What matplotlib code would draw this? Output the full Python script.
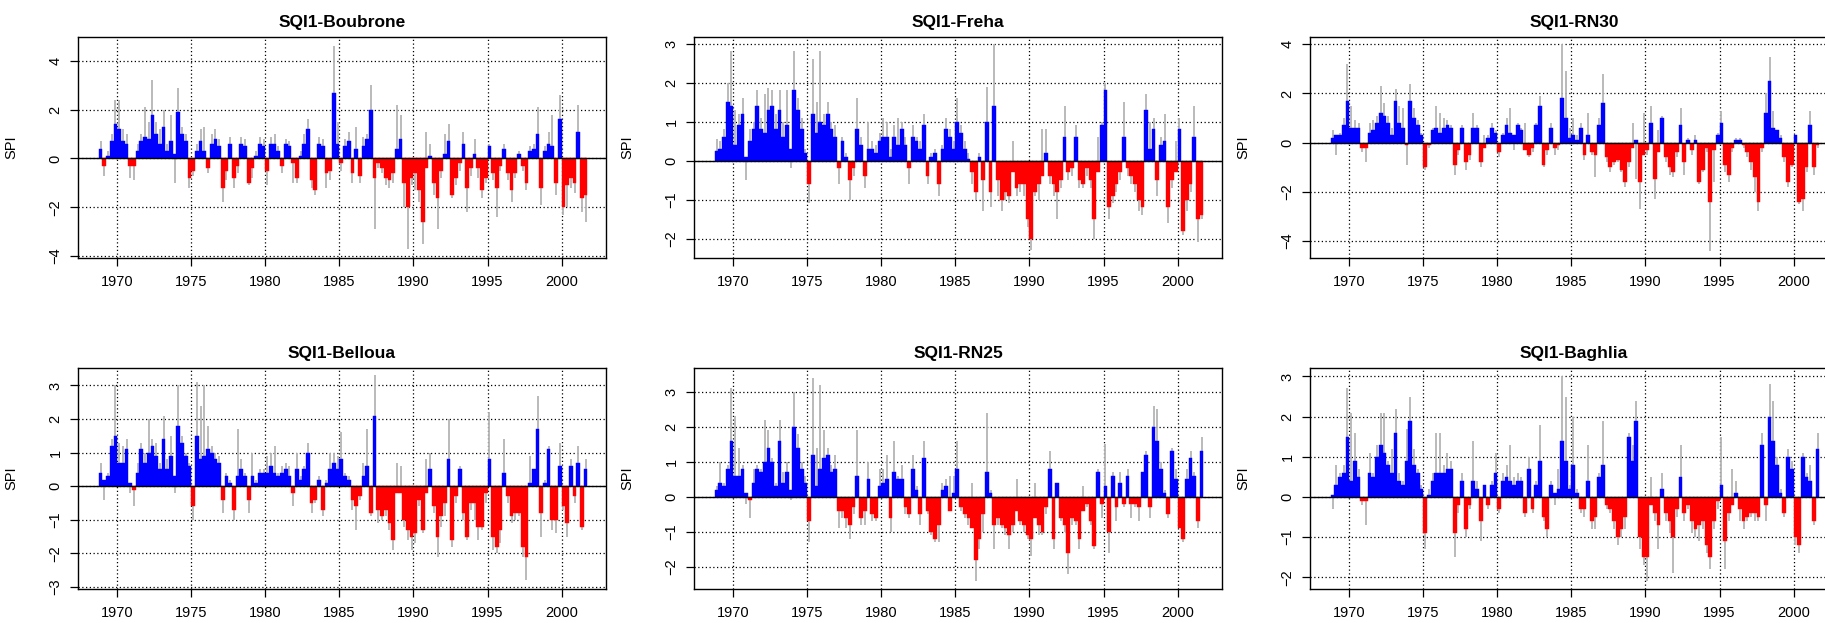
import matplotlib
matplotlib.use("Agg")
import matplotlib.pyplot as plt
import numpy as np

plt.rcParams["font.family"] = ["Liberation Sans", "DejaVu Sans"]

# quarterly SQI values, first quarter = Oct 1968, last = Jul 2001
start_year = 1968.75
step = 0.25

boubrone = [0.4, -0.3, 0.1, 0.7, 1.4, 1.2, 0.7, 0.6, -0.3, -0.3, 0.3, 0.7, 0.9,
            0.8, 1.8, 1.0, 0.6, 1.3, 0.3, 0.7, 0.2, 1.9, 1.0, 0.7, -0.8, -0.5, 0.3, 0.7, 0.3,
            -0.4, 0.6, 0.8, 0.5, -1.2, -0.5, 0.6, -0.8, -0.3, 0.6, 0.5, -1.0, -0.4, 0.1, 0.6, 0.5,
            -0.5, 0.6, 0.6, 0.3, -0.3, 0.6, 0.5, -0.2, -0.8, 0.1, 0.6, 1.2, -0.9, -1.3, 0.6, 0.5,
            -0.6, -0.5, 2.7, 0.6, -0.2, 0.5, 0.7, -0.6, 0.4, -0.7, 0.5, 0.8, 2.0, -0.8, -0.2, -0.4,
            -0.8, -0.9, -0.6, 0.4, 0.8, -1.0, -2.0, -0.8, -0.6, -1.3, -2.6, -0.4, 0.1, -1.0, -1.6, -0.5,
            0.2, 0.7, -1.5, -0.8, -0.2, 0.6, -1.2, -0.4, 0.2, -0.4, -1.3, -0.8, 0.5, -0.6, -1.2, -0.3,
            0.4, -0.6, -1.3, -0.6, 0.2, -0.3, -1.0, 0.3, 0.4, 1.0, -1.2, 0.3, 0.6, 0.5, -1.0, 1.6,
            -2.0, -1.1, -0.8, -1.0, 1.1, -1.6, -1.5]
boubrone_peak = [0.7, -0.7, 0.3, 1.0, 2.4, 2.4, 1.2, 1.0, -0.8, -0.9, 0.6, 1.0, 2.1,
                 1.5, 3.2, 1.5, 1.2, 2.0, 0.6, 1.8, -1.0, 2.9, 1.3, 1.0, -1.2, -0.7, 0.6, 1.2, 1.3,
                 -0.6, 1.0, 1.2, 0.8, -1.8, -0.9, 0.9, -1.2, -0.6, 0.9, 0.8, -1.1, -0.8, 0.3, 0.9, 0.8,
                 -1.1, 0.9, 1.0, 0.5, -0.6, 0.8, 0.7, -1.0, -1.0, 0.3, 1.0, 1.6, -1.2, -1.5, 0.9, 0.8,
                 -1.2, -0.9, 4.6, 1.5, -0.5, 0.8, 1.1, -1.0, 1.3, -1.0, 0.9, 1.0, 3.0, -2.9, -0.4, -0.6,
                 -1.1, -1.2, -1.0, 2.2, 1.8, -2.0, -3.7, -1.1, -1.3, -1.8, -3.5, 1.1, 0.6, -1.5, -2.9, -0.8,
                 1.0, 1.4, -1.6, -1.1, -0.5, 1.1, -2.2, -0.7, 0.8, -0.8, -1.6, -1.0, 0.6, -0.9, -2.4, -0.5,
                 0.6, -0.9, -1.8, -0.8, 0.3, -0.5, -1.3, 0.5, 0.6, 2.1, -1.9, 0.5, 1.1, 1.8, -1.5, 2.6,
                 -2.3, -2.0, -1.2, -1.4, 2.2, -2.2, -2.6]

freha = [0.25, 0.3, 0.6, 1.5, 1.4, 0.4, 0.9, 1.2, 0.1, 0.5, 0.8, 1.4, 0.8,
         0.7, 1.3, 1.4, 0.8, 1.3, 0.6, 0.9, 0.3, 1.8, 1.3, 0.8, 0.2, -0.6, 1.2, 0.7, 1.0,
         0.9, 1.2, 0.8, 0.6, -0.2, 0.5, 0.1, -0.5, -0.2, 0.8, 0.4, -0.4, 0.3, 0.3, 0.2, 0.5,
         0.6, 0.6, 0.1, 0.6, 0.4, 0.8, 0.4, -0.2, 0.6, 0.5, 0.3, 0.9, -0.4, 0.1, 0.2, -0.6,
         0.3, 0.8, 0.6, 0.3, 1.0, 0.7, 0.3, 0.05, -0.3, -0.8, 0.1, -0.5, 1.0, -0.8, 1.4, -0.5,
         -1.0, -0.8, -0.9, -0.3, -0.7, -0.6, -0.6, -1.5, -2.0, -0.8, -0.6, -0.4, 0.2, -0.4, -0.6, -0.8,
         -0.5, 0.6, -0.3, -0.2, 0.6, -0.5, -0.6, -0.2, -0.5, -1.5, -0.3, 0.9, 1.8, -1.2, -0.9, -0.6,
         -0.3, 0.6, -0.2, -0.4, -0.6, -1.0, -1.2, 1.3, 0.3, 0.8, -0.5, 0.4, 0.5, -1.2, -0.5, -0.3,
         0.8, -1.8, -1.0, -0.6, 0.6, -1.5, -1.4]
freha_peak = [0.55, 0.5, 0.8, 2.0, 2.8, 1.3, 1.2, 1.6, -0.5, 0.8, 1.0, 1.8, 1.1,
              1.7, 1.85, 1.8, 1.2, 1.8, 1.0, 1.8, -0.2, 2.8, 1.6, 1.1, 0.3, -1.1, 2.6, 1.5, 2.8,
              1.2, 1.5, 1.0, 0.9, -0.6, 0.6, 0.2, -1.0, -0.4, 1.6, 0.6, -0.7, 1.0, 0.5, 0.4, 0.7,
              1.1, 1.0, 0.3, 0.9, 1.1, 1.0, 0.6, -0.6, 0.9, 0.6, 0.5, 1.2, -0.6, 0.2, 0.3, -0.9,
              0.4, 1.1, 0.8, 0.5, 1.6, 0.9, 0.5, 0.2, -0.6, -1.0, 0.2, -1.3, 1.9, -1.2, 3.0, -0.9,
              -1.3, -1.0, -1.1, 0.5, -0.9, -0.8, -0.9, -1.7, -2.3, -0.9, -1.0, 0.8, 0.8, -0.6, -0.9, -1.5,
              -0.7, 1.4, -0.5, -0.4, 0.9, -0.7, -0.7, -0.4, -0.7, -2.0, 0.6, 1.0, 2.0, -1.5, -1.1, -0.8,
              -0.5, 1.5, -0.4, -0.6, -0.8, -1.3, -1.4, 1.7, 1.0, 1.1, -0.9, 0.6, 1.2, -1.6, -0.7, 0.5,
              1.1, -1.9, -1.3, -0.8, 1.4, -2.1, -1.5]

rn30 = [0.2, 0.3, 0.3, 0.7, 1.7, 0.6, 0.6, 0.6, -0.2, -0.2, 0.4, 0.5, 0.8,
        1.2, 1.1, 0.8, 0.3, 1.7, 0.8, 0.6, -0.1, 1.7, 1.0, 0.7, 0.3, -1.0, -0.1, 0.5, 0.6,
        0.4, 0.6, 0.7, 0.6, -0.9, -0.3, 0.6, -0.8, -0.5, 0.6, 0.6, -0.8, -0.2, 0.2, 0.6, 0.4,
        -0.4, 0.3, 0.7, 0.4, 0.3, 0.7, 0.5, -0.3, -0.5, -0.2, 0.7, 1.5, -0.9, -0.3, 0.6, -0.2,
        -0.1, 1.8, 1.0, 0.2, 0.3, 0.1, 0.6, -0.5, 0.3, -0.4, -0.5, 0.7, 1.6, -0.6, -1.0, -0.8,
        -0.7, -1.1, -1.6, -0.8, -0.2, 0.1, -1.6, -0.5, -0.3, 0.8, -1.5, -0.4, 1.0, -0.6, -1.0, -1.2,
        -0.4, 0.7, -0.8, 0.1, -0.3, 0.1, -1.6, -1.1, -0.2, -2.4, -0.3, 0.3, 0.8, -0.9, -1.3, -0.2,
        0.1, 0.1, -0.1, -0.4, -0.8, -1.4, -2.4, -0.2, 1.2, 2.5, 0.6, 0.5, 0.2, -0.6, -1.6, -0.9,
        0.3, -2.4, -2.3, -1.0, 0.7, -1.0, -0.1]
rn30_peak = [0.5, -0.5, 0.4, 1.0, 3.2, 1.5, 0.9, 0.8, -0.4, -0.8, 0.8, 0.9, 1.1,
             2.3, 1.6, 1.1, 0.6, 2.2, 1.5, 1.4, -0.9, 2.4, 1.4, 0.9, 0.4, -1.1, -0.2, 0.6, 1.5,
             1.2, 1.0, 0.9, 0.7, -1.3, -0.5, 0.7, -1.1, -0.7, 1.2, 0.7, -1.0, 0.3, 0.3, 0.8, 0.5,
             -0.6, 0.4, 1.0, 1.4, -0.3, 0.8, 0.6, 0.8, -0.6, -0.4, 0.8, 1.9, -1.0, -0.5, 0.8, -0.5,
             -0.3, 4.0, 2.9, 0.6, 1.0, 0.3, 0.8, -0.7, 1.2, -0.5, -1.4, 1.0, 2.8, -0.8, -1.2, -0.9,
             -0.8, -1.2, -1.8, -1.0, 0.8, -1.5, -2.7, 1.2, -0.5, 1.5, -2.3, 0.5, 1.1, -0.8, -1.3, -1.4,
             -0.6, 1.4, -1.3, 0.2, -0.5, 0.3, -1.7, -1.2, -0.4, -4.4, -1.6, 0.4, 1.3, -1.2, -1.6, -0.4,
             0.2, 0.2, -0.2, -0.6, -1.1, -2.0, -2.8, -0.4, 2.0, 3.5, 1.3, 0.5, 0.3, -0.8, -1.8, -1.0,
             0.3, -2.5, -2.8, -1.2, 1.3, -1.3, -0.2]

belloua = [0.4, 0.2, 0.3, 1.2, 1.5, 0.7, 0.7, 1.1, 0.1, -0.1, 0.4, 1.1, 0.7,
           1.0, 1.2, 0.9, 0.5, 1.4, 0.5, 0.9, 0.3, 1.8, 1.3, 0.9, 0.6, -0.6, 1.5, 0.8, 0.9,
           1.1, 1.0, 0.8, 0.7, -0.4, 0.3, 0.1, -0.7, 0.3, 0.5, 0.3, -0.4, 0.3, 0.1, 0.4, 0.4,
           0.4, 0.6, 0.4, 0.3, 0.4, 0.5, 0.3, -0.2, 0.5, 0.2, 0.5, 1.0, -0.5, -0.4, 0.2, -0.7,
           0.1, 0.5, 0.7, 0.5, 0.8, 0.3, 0.2, -0.4, -0.6, -0.3, 0.3, 0.6, -0.8, 2.1, -0.7, -0.9,
           -0.7, -1.1, -1.6, -0.2, -0.2, -1.0, -1.3, -1.5, -1.4, -0.4, -1.3, -0.2, 0.5, -0.6, -1.5, -0.9,
           -0.5, 0.8, -1.6, -0.3, 0.5, -0.8, -1.5, -0.5, -0.5, -1.2, -1.2, -0.2, 0.8, -1.5, -1.8, -1.3,
           0.4, -0.3, -0.9, -0.8, -0.8, -1.8, -2.1, 0.1, 0.5, 1.7, -0.8, 0.1, 1.1, -1.0, -1.0, 0.6,
           -0.6, -1.1, 0.6, -0.3, 0.7, -1.2, 0.5]
belloua_peak = [0.7, -0.4, 0.4, 1.4, 3.0, 1.3, 1.2, 1.4, -0.2, -0.6, 0.7, 1.3, 1.0,
                2.0, 1.4, 1.3, 0.7, 2.1, 0.8, 1.5, -0.2, 3.0, 1.5, 1.0, 0.7, -1.0, 3.1, 2.4, 3.0,
                1.8, 1.2, 1.0, 0.9, -0.8, 0.4, 0.2, -1.0, 1.7, 0.8, 0.4, -0.8, 1.0, 0.2, 0.5, 0.5,
                0.9, 1.0, 1.2, 0.4, 0.6, 0.7, 0.6, -0.6, 1.0, 0.3, 0.6, 1.3, -0.8, -0.5, 0.3, -0.9,
                0.2, 1.0, 1.0, 0.9, 1.6, 0.4, 0.3, -0.7, -1.3, -0.4, 0.7, 1.7, -0.9, 3.3, -1.1, -1.0,
                -0.9, -1.3, -1.9, 0.7, 0.6, -1.2, -1.6, -1.9, -1.7, -0.6, -1.4, 0.8, 1.0, -0.8, -2.1, -1.2,
                -0.9, 2.0, -1.8, -0.5, 0.6, -1.0, -1.6, -0.7, -1.0, -1.6, -1.3, -0.5, 2.2, -1.9, -2.0, -1.7,
                1.4, -0.5, -1.1, -1.0, -0.9, -2.1, -2.8, 0.9, 0.5, 2.7, -1.5, 0.2, 1.2, -1.3, -1.4, 1.3,
                -0.7, -1.5, 0.8, -0.5, 1.2, -1.3, 0.8]

rn25 = [0.2, 0.4, 0.3, 0.8, 1.6, 0.6, 0.6, 0.8, 0.1, -0.1, 0.4, 0.8, 0.7,
        1.0, 1.4, 1.0, 0.3, 1.6, 0.4, 0.7, 0.2, 2.0, 1.4, 0.8, 0.4, -0.7, 1.2, 0.3, 0.8,
        1.1, 1.2, 0.7, 0.8, -0.4, -0.4, -0.6, -0.8, -0.3, 0.6, -0.6, -0.4, 0.5, -0.5, -0.6, 0.3,
        0.4, 0.5, -0.6, 0.7, 0.5, 0.5, -0.3, -0.5, 0.8, 0.2, -0.5, 1.1, -0.4, -1.0, -1.2, -0.8,
        0.2, 0.3, -0.4, 0.1, 0.8, -0.3, -0.5, -0.6, -0.9, -1.8, -1.2, -0.5, 0.7, 0.1, -0.8, -0.6,
        -0.8, -0.9, -1.1, -0.8, -0.4, -0.7, -0.8, -1.1, -1.2, -0.6, -0.8, -1.0, -0.3, 0.8, -1.2, 0.4,
        -0.6, -0.8, -1.6, -0.6, -0.7, -1.2, -0.4, -0.2, -0.7, -1.4, 0.7, -0.2, 0.3, -1.0, 0.6, -0.3,
        0.4, -0.2, 0.6, -0.2, -0.2, -0.3, 0.7, 1.2, -0.3, 2.0, 1.6, 0.8, 0.1, -0.5, 1.3, 0.5,
        -0.9, -1.2, 0.5, 1.1, 0.6, -0.7, 1.3]
rn25_peak = [0.3, 1.0, 0.4, 0.9, 3.1, 2.3, 1.4, 0.9, -0.2, -0.6, 0.8, 0.9, 0.8,
             2.2, 1.9, 1.1, 0.4, 2.2, 0.7, 1.0, -0.1, 3.0, 1.8, 1.0, 0.6, -1.3, 3.4, 1.4, 3.2,
             1.9, 1.4, 0.9, 1.2, -0.9, -0.6, -0.9, -1.2, -0.5, 1.9, -0.8, -0.8, 1.0, -0.7, -0.7, 0.8,
             0.8, 1.2, -1.0, 1.6, 0.6, 0.9, -0.5, -0.6, 1.2, 0.3, -0.8, 1.6, -0.5, -1.1, -1.3, -1.3,
             0.4, 0.5, 0.6, 0.6, 1.6, -0.4, -0.6, -0.8, 0.4, -2.4, -1.5, -1.0, 2.4, 0.2, -1.5, -0.8,
             -0.9, -1.1, -1.5, -1.0, 0.5, -0.8, -1.0, -1.2, -1.7, 0.4, -1.1, -1.1, -0.5, 1.3, -1.5, 0.4,
             -0.7, -1.0, -2.2, -0.8, -0.8, -1.5, 0.3, -0.3, -0.8, -1.5, 0.8, -0.6, 1.5, -1.6, 0.7, -0.7,
             0.7, -0.3, 0.8, -0.6, -0.3, -0.7, 0.7, 1.3, -0.6, 2.6, 2.5, 1.0, 0.2, -0.6, 1.4, 0.8,
             -0.9, -1.3, 0.8, 1.3, 0.7, -0.9, 1.7]

baghlia = [0.05, 0.3, 0.5, 0.6, 1.5, 0.4, 0.9, 0.5, -0.1, -0.1, 0.6, 0.5, 1.0,
           1.3, 1.1, 0.8, 0.6, 1.6, 0.4, 0.3, 0.9, 1.9, 0.8, 0.6, 0.2, -0.9, 0.05, 0.4, 0.6,
           0.6, 0.6, 0.7, 0.7, -0.9, -0.2, 0.4, -0.8, -0.2, 0.4, 0.2, -0.6, 0.3, -0.2, 0.3, 0.6,
           -0.3, 0.4, 0.5, 0.4, 0.3, 0.4, 0.4, -0.4, 0.7, -0.3, 0.3, 0.9, -0.5, -0.8, 0.3, 0.1,
           0.2, 1.4, 0.9, 0.2, 0.8, 0.1, -0.3, -0.3, 0.4, -0.6, -0.5, 0.5, 0.8, -0.2, -0.3, -0.6,
           -1.0, -0.8, -0.5, 1.5, 0.9, 1.9, -1.0, -1.5, -1.5, -0.2, -0.4, -0.7, 0.2, -0.4, -0.6, -1.0,
           -0.3, 0.5, -0.4, -0.2, -0.6, -0.8, -0.7, -0.6, -1.2, -1.5, -0.6, -0.1, 0.3, -1.1, -0.4, -0.2,
           0.1, -0.3, -0.6, -0.5, -0.4, -0.4, -0.5, 1.3, -0.2, 2.0, 1.4, 0.8, 0.1, -0.4, 1.0, 0.7,
           -1.0, -1.2, 1.0, 0.5, 0.4, -0.6, 1.2]
baghlia_peak = [-0.3, 0.8, 0.6, 0.8, 2.7, 2.1, 1.6, 0.7, -0.2, -0.7, 1.1, 0.6, 1.3,
                2.1, 2.1, 0.9, 1.2, 2.2, 0.6, 0.4, 1.7, 2.5, 1.2, 0.7, 0.3, -1.3, 0.2, 0.6, 1.6,
                1.6, 0.8, 1.1, 0.9, -1.5, -0.4, 0.6, -1.0, -0.3, 1.4, 0.4, -1.1, 0.3, -0.3, 0.4, 1.1,
                -0.4, 0.6, 0.8, 1.3, 0.5, 0.6, 0.5, -0.5, 1.0, -0.4, 0.4, 1.8, -0.6, -1.0, 0.4, -0.2,
                0.7, 3.0, 2.5, 0.3, 2.0, 0.2, -0.4, -0.5, 1.3, -0.8, -0.8, 0.6, 1.9, -0.3, -0.4, -0.8,
                -1.2, -1.0, -0.8, 1.6, 1.3, 2.4, -1.3, -1.7, -2.1, 0.5, -0.6, -1.3, 0.6, -0.6, -0.9, -1.9,
                -0.5, 1.3, -0.6, -0.3, -0.9, -1.0, -1.1, -0.8, -1.4, -1.8, -0.8, -0.3, 1.5, -1.8, -0.6, 0.7,
                0.4, -0.6, -0.8, -0.6, -0.5, -0.6, -0.6, 1.6, -0.6, 2.8, 2.4, 1.0, 0.2, -0.5, 1.2, 0.9,
                -1.2, -1.4, 1.1, 0.6, 0.8, -0.7, 1.6]

titles = ["SQI1-Boubrone", "SQI1-Freha", "SQI1-RN30",
          "SQI1-Belloua", "SQI1-RN25", "SQI1-Baghlia"]
series = [boubrone, freha, rn30, belloua, rn25, baghlia]
peaks = [boubrone_peak, freha_peak, rn30_peak, belloua_peak, rn25_peak, baghlia_peak]
y_ticks = [[-4, -2, 0, 2, 4], [-2, -1, 0, 1, 2, 3], [-4, -2, 0, 2, 4],
           [-3, -2, -1, 0, 1, 2, 3], [-2, -1, 0, 1, 2, 3], [-2, -1, 0, 1, 2, 3]]
y_limits = [(-4.08, 4.98), (-2.5, 3.17), (-4.7, 4.3),
            (-3.06, 3.52), (-2.64, 3.68), (-2.29, 3.21)]
x_ticks = [1970, 1975, 1980, 1985, 1990, 1995, 2000]

W, H = 1825, 623
fig = plt.figure(figsize=(W / 100, H / 100), dpi=100)
lefts = [78, 694, 1310]
tops = [37, 368]
pw, ph = 528, 221

for i in range(6):
    row, col = divmod(i, 3)
    ax = fig.add_axes([lefts[col] / W, (H - tops[row] - ph) / H, pw / W, ph / H])
    vals = np.array(series[i])
    peak = np.array(peaks[i])
    t = start_year + step * np.arange(len(vals))

    ax.set_axisbelow(True)
    ax.grid(True, color="black", linestyle=(0, (1, 2)), linewidth=0.9)
    ax.vlines(t + step / 2, 0, peak, color="#b4b4b4", linewidth=1.3, zorder=2)
    colors = np.where(vals >= 0, "#0000ff", "#ff0000")
    ax.bar(t, vals, width=step, align="edge", color=colors, edgecolor=colors,
           linewidth=0.3, zorder=3)
    ax.axhline(0, color="black", linewidth=1.0, zorder=4)

    ax.set_xlim(1967.35, 2003.0)
    ax.set_ylim(*y_limits[i])
    ax.set_xticks(x_ticks)
    ax.set_yticks(y_ticks[i])
    ax.tick_params(axis="both", direction="out", length=6, width=0.9,
                   labelsize=10.5, colors="black")
    ax.tick_params(axis="x", pad=6)
    ax.tick_params(axis="y", pad=5)
    plt.setp(ax.get_yticklabels(), rotation=90, va="center")
    for sp in ax.spines.values():
        sp.set_linewidth(1.0)
    ax.set_ylabel("SPI", fontsize=10.5)
    ax.yaxis.set_label_coords(-0.113, 0.5)
    ax.set_title(titles[i], fontsize=12.5, fontweight="bold", pad=7)

fig.savefig("out.png", dpi=100)
